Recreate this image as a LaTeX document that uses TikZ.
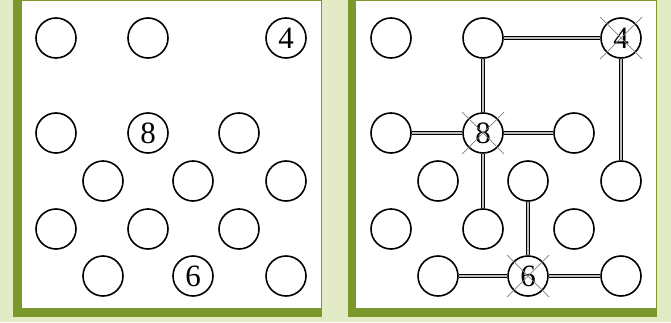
\documentclass[tikz,border=0pt]{standalone}
\usepackage{fontspec}
\setmainfont{Liberation Serif}
\definecolor{bgg}{HTML}{E3EAC6}
\definecolor{olive}{HTML}{7A982C}
\begin{document}
\begin{tikzpicture}[x=1pt,y=1pt,
  dot/.style={circle,draw=black,line width=1.6pt,minimum size=40pt,inner sep=0pt,
    font=\fontsize{31}{31}\selectfont},
  link/.style={draw=black,line width=1pt,double=black!25,double distance=2.4pt},
  cross/.style={draw=black!50,line width=0.7pt}]
\fill[bgg] (0,0) rectangle (671,322);
\useasboundingbox (0,0) rectangle (671,322);
% panels
\fill[olive] (13,5) rectangle (322,322);
\fill[white] (22,14) rectangle (320.5,320.5);
\fill[olive] (348,5) rectangle (657,322);
\fill[white] (356,14) rectangle (655.5,320.5);
% left panel
\node[dot] (la1) at (56,284) {};
\node[dot] (la2) at (148,284) {};
\node[dot] (la3) at (286,284) {4};
\node[dot] (lb1) at (56,189) {};
\node[dot] (lb2) at (148,189) {8};
\node[dot] (lb3) at (239,189) {};
\node[dot] (lc1) at (103,141) {};
\node[dot] (lc2) at (193,141) {};
\node[dot] (lc3) at (286,141) {};
\node[dot] (ld1) at (56,93) {};
\node[dot] (ld2) at (148,93) {};
\node[dot] (ld3) at (239,93) {};
\node[dot] (le1) at (103,46) {};
\node[dot] (le2) at (193,46) {6};
\node[dot] (le3) at (286,46) {};
% right panel
\node[dot] (ra1) at (391,284) {};
\node[dot] (ra2) at (483,284) {};
\node[dot] (ra3) at (621,284) {4};
\node[dot] (rb1) at (391,189) {};
\node[dot] (rb2) at (483,189) {8};
\node[dot] (rb3) at (574,189) {};
\node[dot] (rc1) at (438,141) {};
\node[dot] (rc2) at (528,141) {};
\node[dot] (rc3) at (621,141) {};
\node[dot] (rd1) at (391,93) {};
\node[dot] (rd2) at (483,93) {};
\node[dot] (rd3) at (574,93) {};
\node[dot] (re1) at (438,46) {};
\node[dot] (re2) at (528,46) {6};
\node[dot] (re3) at (621,46) {};
% crosses
\foreach \n in {ra3,rb2,re2}{
  \draw[cross] ([shift={(-21,-21)}]\n.center) -- ([shift={(21,21)}]\n.center);
  \draw[cross] ([shift={(-21,21)}]\n.center) -- ([shift={(21,-21)}]\n.center);
}
% links
\draw[link] (ra2) -- (ra3);
\draw[link] (ra2) -- (rb2);
\draw[link] (ra3) -- (rc3);
\draw[link] (rb1) -- (rb2);
\draw[link] (rb2) -- (rb3);
\draw[link] (rb2) -- (rd2);
\draw[link] (rc2) -- (re2);
\draw[link] (re1) -- (re2);
\draw[link] (re2) -- (re3);
\end{tikzpicture}
\end{document}
